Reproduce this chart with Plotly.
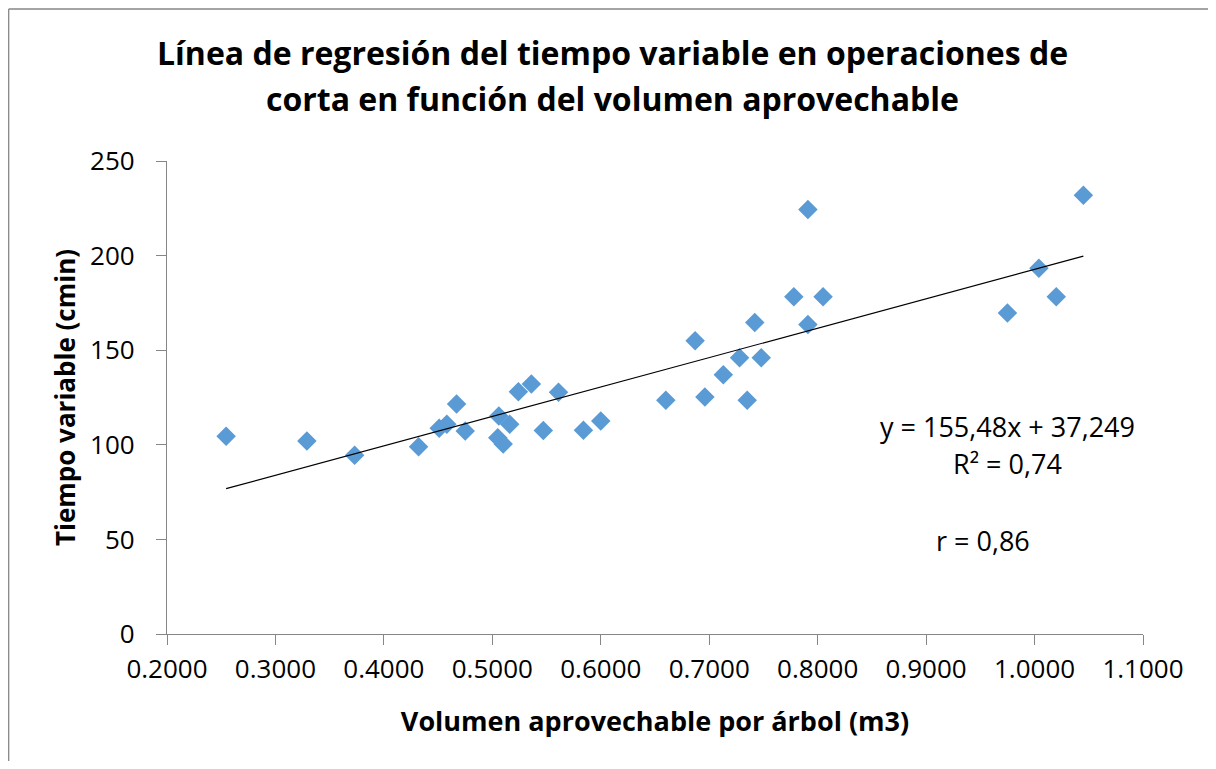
import plotly.graph_objects as go

# Data
volumen = [0.2545, 0.329, 0.373, 0.432, 0.451, 0.458, 0.467, 0.475, 0.505, 0.506,
           0.510, 0.516, 0.524, 0.536, 0.547, 0.561, 0.584, 0.600, 0.660, 0.687,
           0.696, 0.713, 0.728, 0.735, 0.742, 0.748, 0.778, 0.791, 0.791, 0.805,
           0.975, 1.004, 1.020, 1.045]
tiempo = [104.5, 102.0, 94.5, 99.0, 108.8, 110.8, 121.6, 107.3, 103.7, 115.2,
          100.4, 110.8, 128.0, 132.2, 107.5, 127.8, 107.7, 112.6, 123.5, 155.0,
          125.2, 137.0, 146.0, 123.5, 164.6, 146.0, 178.2, 224.4, 163.6, 178.2,
          169.6, 193.3, 178.2, 231.9]

slope = 155.48
intercept = 37.249
x_ticks = [0.2, 0.3, 0.4, 0.5, 0.6, 0.7, 0.8, 0.9, 1.0, 1.1]
x_tick_labels = ["0.2000", "0.3000", "0.4000", "0.5000", "0.6000",
                 "0.7000", "0.8000", "0.9000", "1.0000", "1.1000"]
y_ticks = [0, 50, 100, 150, 200, 250]
title_lines = ["Línea de regresión del tiempo variable en operaciones de",
               "corta en función del volumen aprovechable"]

FONT = "Open Sans"

x_line = [min(volumen), max(volumen)]
y_line = [slope * v + intercept for v in x_line]

# page has an 8px body margin; figure sized to fit the window without overflow.
# plot area lands at screen x 167..1143, y 161..634
W, H = 1200, 753
OFF = 8
ML, MT = 167 - OFF, 161 - OFF
MR = (OFF + W) - 1143
MB = (OFF + H) - 634
PW = W - ML - MR
PH = H - MT - MB


def px_x(sx):
    return (sx - 167) / PW


def px_y(sy):
    return (634 - sy) / PH


fig = go.Figure()
fig.add_trace(go.Scatter(
    x=volumen, y=tiempo, mode="markers",
    marker=dict(symbol="diamond", size=15, color="#5B9BD5", line=dict(width=0)),
    showlegend=False, cliponaxis=False,
))
fig.add_trace(go.Scatter(
    x=x_line, y=y_line, mode="lines",
    line=dict(color="black", width=1.2),
    showlegend=False,
))

axis_common = dict(
    showgrid=False, zeroline=False, showline=True, linecolor="#868686", linewidth=1.3,
    ticks="outside", ticklen=10, tickcolor="#868686", tickwidth=1.3,
    tickfont=dict(family=FONT, size=26, color="black"),
)

border = dict(color="#868686", width=1.3)
fig.update_layout(
    width=W, height=H,
    margin=dict(l=ML, r=MR, t=MT, b=MB),
    paper_bgcolor="white", plot_bgcolor="white",
    xaxis=dict(range=[0.2, 1.1], tickvals=x_ticks, ticktext=x_tick_labels,
               ticklabelstandoff=2,
               title=dict(text="<b>Volumen aprovechable por árbol (m3)</b>",
                          font=dict(family=FONT, size=27, color="black"), standoff=26),
               **axis_common),
    yaxis=dict(range=[0, 250], tickvals=y_ticks, ticklabelstandoff=16,
               title=dict(text="<b>Tiempo variable (cmin)</b>",
                          font=dict(family=FONT, size=26, color="black"), standoff=6),
               **axis_common),
    shapes=[
        dict(type="line", xref="paper", yref="paper", layer="below",
             x0=px_x(OFF + 0.7), x1=px_x(OFF + W + 30), y0=px_y(9), y1=px_y(9), line=border),
        dict(type="line", xref="paper", yref="paper", layer="below",
             x0=px_x(OFF + 0.7), x1=px_x(OFF + 0.7), y0=px_y(9), y1=px_y(OFF + H + 30), line=border),
    ],
)

title_font = dict(family=FONT, size=32, color="black", weight="bold")
for (sy, txt) in zip([52, 98], title_lines):
    fig.add_annotation(x=px_x(612), y=px_y(sy), xref="paper", yref="paper",
                       text=txt, showarrow=False, font=title_font,
                       xanchor="center", yanchor="middle")

ann_font = dict(family=FONT, size=27, color="black")
# (screen x, screen y, text)
notes = [(1007, 427, "y = 155,48x + 37,249"),
         (1007, 464, "R² = 0,74"),
         (983, 540, "r = 0,86")]
for sx, sy, txt in notes:
    fig.add_annotation(x=px_x(sx), y=px_y(sy), xref="paper", yref="paper",
                       text=txt, showarrow=False, font=ann_font,
                       xanchor="center", yanchor="middle")

fig.write_html("out.html")
